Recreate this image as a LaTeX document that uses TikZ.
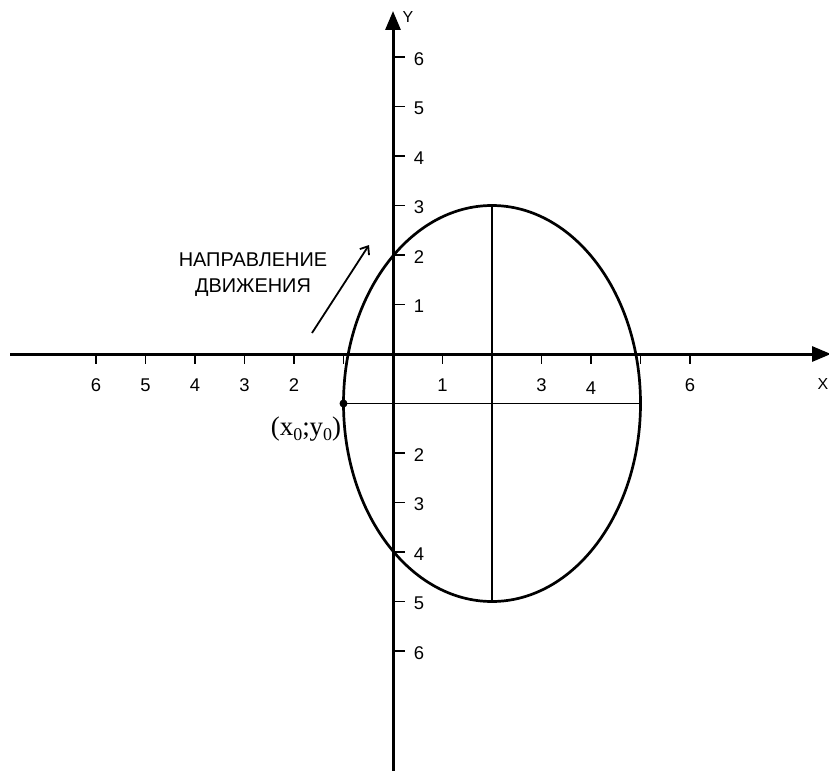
\documentclass[tikz,border=0pt]{standalone}
\usepackage{fontspec}
\setmainfont{Liberation Serif}
\newfontfamily\axisfont{Liberation Sans}
\usetikzlibrary{arrows.meta}
\newcommand{\lowsub}[1]{\raisebox{-0.45ex}{\fontsize{18}{18}\selectfont #1}}
\begin{document}
\begin{tikzpicture}[x=1bp,y=-1bp,
  axisline/.style={line width=3bp, -{Triangle[length=19bp,width=15bp]}},
  curveline/.style={line width=2.7bp},
  thinline/.style={line width=1.5bp},
  tickline/.style={line width=1.5bp},
  num/.style={font=\axisfont\fontsize{18.5}{18.5}\selectfont, inner sep=0pt},
  axislabel/.style={font=\axisfont\fontsize{16}{16}\selectfont, inner sep=0pt},
]
\useasboundingbox (0,0) rectangle (829,771);
\fill[white] (0,0) rectangle (829,771);
% axes
\coordinate (O) at (393,354);
\coordinate (xs) at (10,354);
\coordinate (xe) at (831,354);
\coordinate (ys) at (393,775);
\coordinate (ye) at (393,11);
\draw[axisline] (xs) -- (xe);
\draw[axisline] (ys) -- (ye);
\node[axislabel] (ylab) at (408,17) {Y};
\node[axislabel] (xlab) at (823,384) {X};
% ticks
\foreach \i in {-6,...,-1,1,2,...,6} {
  \draw[tickline] ({393+49.5*\i},354) -- ++(0,10);
  \draw[tickline] (393,{354-49.5*\i}) -- ++(12,0);
}
% x labels
\foreach \i/\t in {-6/6,-5/5,-4/4,-3/3,-2/2,1/1,3/3,6/6}
  \node[num] (xl\i) at ({393+49.5*\i},385) {\t};
\node[num] (xl4) at (591,388) {4};
% y labels
\foreach \i/\t in {6/6,5/5,4/4,3/3,2/2,1/1,-2/2,-3/3,-4/4,-5/5,-6/6}
  \node[num] (yl\i) at (419,{356-49.5*\i}) {\t};
% ellipse
\coordinate (C) at (492,403.5);
\coordinate (Ct) at (492,205.5);
\coordinate (Cb) at (492,601.5);
\coordinate (Cl) at (343.5,403.5);
\coordinate (Cr) at (640.5,403.5);
\draw[thinline] (Ct) -- (Cb);
\draw[thinline] (Cl) -- (Cr);
\draw[curveline] (C) ellipse [x radius=148.5bp, y radius=198bp];
\fill (Cl) circle (4bp);
\node[font=\fontsize{27}{27}\selectfont, inner sep=0pt] (p0) at (306,429) {(x\lowsub{0};y\lowsub{0})};
% direction
\node[font=\axisfont\fontsize{20}{26}\selectfont, align=center, inner sep=0pt] (dir) at (253,275) {НАПРАВЛЕНИЕ\\ДВИЖЕНИЯ};
\coordinate (a1) at (312,333);
\coordinate (a2) at (369,245);
\draw[line width=1.8bp, -{Straight Barb[length=7bp,width=11bp]}] (a1) -- (a2);
\end{tikzpicture}
\end{document}
